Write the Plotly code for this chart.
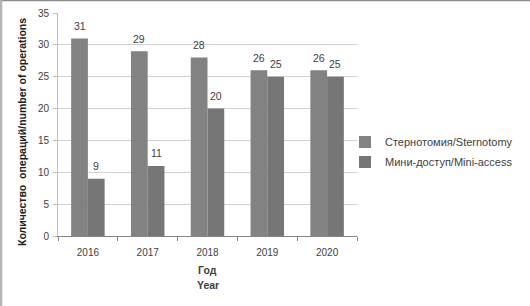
import plotly.graph_objects as go

years = ["2016", "2017", "2018", "2019", "2020"]
sternotomy = [31, 29, 28, 26, 26]
mini_access = [9, 11, 20, 25, 25]
series_names = ["Стернотомия/Sternotomy", "Мини-доступ/Mini-access"]
y_ticks = [0, 5, 10, 15, 20, 25, 30, 35]

W, H = 530, 306
ML, MR, MT, MB = 58, 173, 13, 70
PW, PH = W - ML - MR, H - MT - MB
BARGAP = 0.44
HALF_BAR = PW / len(years) * (1 - BARGAP) / 4  # offset of each bar's centre from category centre

font_main = "Liberation Sans, Arial, sans-serif"


def py(pix):
    """pixel row -> paper y"""
    return (H - MB - pix) / PH


def px(pix):
    """pixel column -> paper x"""
    return (pix - ML) / PW


fig = go.Figure()
fig.add_trace(go.Bar(
    x=years, y=sternotomy, name=series_names[0], legendgroup="a",
    marker=dict(color="#828282", line=dict(width=0)),
))
fig.add_trace(go.Bar(
    x=years, y=mini_access, name=series_names[1], legendgroup="b",
    marker=dict(color="#767676", line=dict(width=0)),
))

annotations = []
for vals, sign in ((sternotomy, -1), (mini_access, 1)):
    for i, v in enumerate(vals):
        annotations.append(dict(
            x=i, y=v, xref="x", yref="y", text=str(v), showarrow=False,
            xshift=sign * HALF_BAR, yshift=12.5, yanchor="middle", xanchor="center",
            font=dict(size=10.5, color="#404040", family=font_main),
        ))
annotations += [
    dict(text="<b>Количество  операций/number of operations</b>",
         textangle=-90, xref="paper", yref="paper",
         x=px(22), y=py(132), xanchor="center", yanchor="middle",
         showarrow=False, font=dict(size=10.5, color="#202020", family=font_main)),
    dict(text="<b>Год</b>", xref="paper", yref="paper", x=0.5, y=py(270),
         xanchor="center", yanchor="middle", showarrow=False,
         font=dict(size=10.5, color="#404040", family=font_main)),
    dict(text="<b>Year</b>", xref="paper", yref="paper", x=0.5, y=py(285),
         xanchor="center", yanchor="middle", showarrow=False,
         font=dict(size=10.5, color="#404040", family=font_main)),
]

fig.update_layout(
    width=W, height=H,
    margin=dict(l=ML, r=MR, t=MT, b=MB),
    paper_bgcolor="white", plot_bgcolor="white",
    barmode="group", bargap=BARGAP, bargroupgap=0,
    font=dict(family=font_main, size=10, color="#404040"),
    showlegend=True,
    legend=dict(
        x=px(345), xanchor="left",
        y=py(152), yanchor="middle",
        font=dict(size=11, color="#404040", family=font_main),
        traceorder="grouped", tracegroupgap=1,
        bgcolor="rgba(0,0,0,0)",
    ),
    xaxis=dict(
        type="category", range=[-0.5, len(years) - 0.5], automargin=False,
        tickson="boundaries", ticks="outside", ticklen=4,
        tickcolor="#868686", showline=True, linecolor="#868686", linewidth=1,
        tickfont=dict(size=10, color="#404040"), ticklabelstandoff=7,
        showgrid=False,
    ),
    yaxis=dict(
        range=[0, 35], tickvals=y_ticks, ticks="outside", ticklen=4, automargin=False,
        tickcolor="#bfbfbf", showline=True, linecolor="#bfbfbf", linewidth=1,
        gridcolor="#d0d0d0", gridwidth=1, zeroline=False,
        tickfont=dict(size=10, color="#404040"), ticklabelstandoff=2,
    ),
    annotations=annotations,
    shapes=[
        dict(type="line", xref="paper", yref="paper",
             x0=px(0), x1=px(W), y0=py(0.5), y1=py(0.5),
             line=dict(color="#8c8c8c", width=1.5)),
        dict(type="line", xref="paper", yref="paper",
             x0=px(1), x1=px(1), y0=py(H), y1=py(0),
             line=dict(color="#b4b4b4", width=2.5)),
    ],
)

fig.write_html("out.html", config={"displayModeBar": False},
               post_script="document.body.style.margin='0';document.body.style.overflow='hidden';")
